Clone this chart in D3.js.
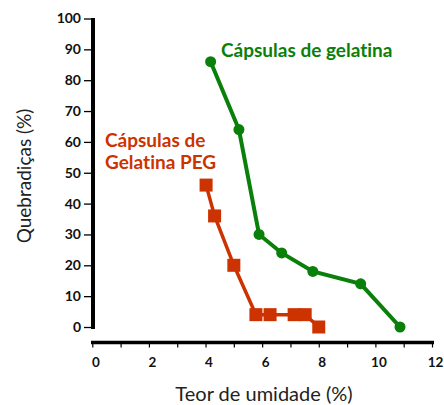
<!DOCTYPE html>
<html>
<head>
<meta charset="utf-8">
<script src="https://cdn.jsdelivr.net/npm/d3@7"></script>
<style>
  body { margin: 0; background: #fff; }
  svg text { font-family: Lato, "Open Sans", sans-serif; font-variant-ligatures: none; }
</style>
</head>
<body>
<div id="chart"></div>
<script>
// values
var gelX = [4.18, 5.18, 5.89, 6.69, 7.79, 9.48, 10.87];
var gelY = [86, 64, 30, 24, 18, 14, 0];
var pegX = [4.02, 4.32, 5.0, 5.78, 6.28, 7.13, 7.52, 8.0];
var pegY = [46, 36, 20, 4, 4, 4, 4, 0];
var xTicks = [0, 2, 4, 6, 8, 10, 12];
var yTicks = [0, 10, 20, 30, 40, 50, 60, 70, 80, 90, 100];

var green = "#0a800a", red = "#cc3300";

var svg = d3.select("#chart").append("svg")
  .attr("width", 444).attr("height", 405);

var x = d3.scaleLinear().domain([0, 12]).range([92.3, 432]);
var y = d3.scaleLinear().domain([0, 100]).range([327, 18.5]);

// y axis
var yAxis = svg.append("g").attr("transform", "translate(93,0)")
  .call(d3.axisLeft(y).tickValues(yTicks).tickSize(9).tickPadding(3));
yAxis.select(".domain").remove();
yAxis.append("line").attr("x1", 0).attr("x2", 0).attr("y1", 18).attr("y2", 329)
  .attr("stroke", "#000").attr("stroke-width", 4);
yAxis.selectAll(".tick line").attr("stroke-width", 1.3);
yAxis.selectAll(".tick text").attr("fill", "#111")
  .style("font-size", "14px").style("font-weight", "bold");

// x axis
var xAxis = svg.append("g").attr("transform", "translate(0,342.5)")
  .call(d3.axisBottom(x).ticks(12).tickSize(5).tickPadding(10)
    .tickFormat(function(d) { return xTicks.indexOf(d) >= 0 ? d : ""; }));
xAxis.select(".domain").remove();
xAxis.insert("line", ":first-child").attr("x1", 91).attr("x2", 434).attr("y1", 0).attr("y2", 0)
  .attr("stroke", "#000").attr("stroke-width", 3.5);
xAxis.selectAll(".tick line").attr("stroke-width", 1.2);
xAxis.selectAll(".tick text").attr("fill", "#111").attr("dx", 3)
  .style("font-size", "13.5px").style("font-weight", "bold");

// axis titles
svg.append("text").attr("transform", "translate(31,176) rotate(-90)")
  .attr("text-anchor", "middle").style("font-size", "19px").attr("fill", "#222")
  .text("Quebradiças (%)");
svg.append("text").attr("x", 264).attr("y", 401)
  .attr("text-anchor", "middle").style("font-size", "20px").attr("fill", "#222")
  .text("Teor de umidade (%)");

var line = d3.line().x(function(d) { return x(d[0]); }).y(function(d) { return y(d[1]); });
var gel = d3.zip(gelX, gelY), peg = d3.zip(pegX, pegY);

svg.append("path").datum(gel).attr("d", line)
  .attr("fill", "none").attr("stroke", green).attr("stroke-width", 4);
svg.selectAll("circle.gel").data(gel).enter().append("circle").attr("class", "gel")
  .attr("cx", function(d) { return x(d[0]); }).attr("cy", function(d) { return y(d[1]); })
  .attr("r", 5.5).attr("fill", green);

svg.append("path").datum(peg).attr("d", line)
  .attr("fill", "none").attr("stroke", red).attr("stroke-width", 3.5);
svg.selectAll("rect.peg").data(peg).enter().append("rect").attr("class", "peg")
  .attr("x", function(d) { return x(d[0]) - 6.5; }).attr("y", function(d) { return y(d[1]) - 6.5; })
  .attr("width", 13).attr("height", 13).attr("fill", red);

// series labels
svg.append("text").attr("x", 221).attr("y", 57).attr("fill", green)
  .style("font-size", "19px").style("font-weight", "bold").text("Cápsulas de gelatina");
var pl = svg.append("text").attr("x", 105).attr("y", 147).attr("fill", red)
  .style("font-size", "19px").style("font-weight", "bold");
pl.append("tspan").attr("x", 105).text("Cápsulas de");
pl.append("tspan").attr("x", 105).attr("dy", 22).text("Gelatina PEG");
</script>
</body>
</html>
